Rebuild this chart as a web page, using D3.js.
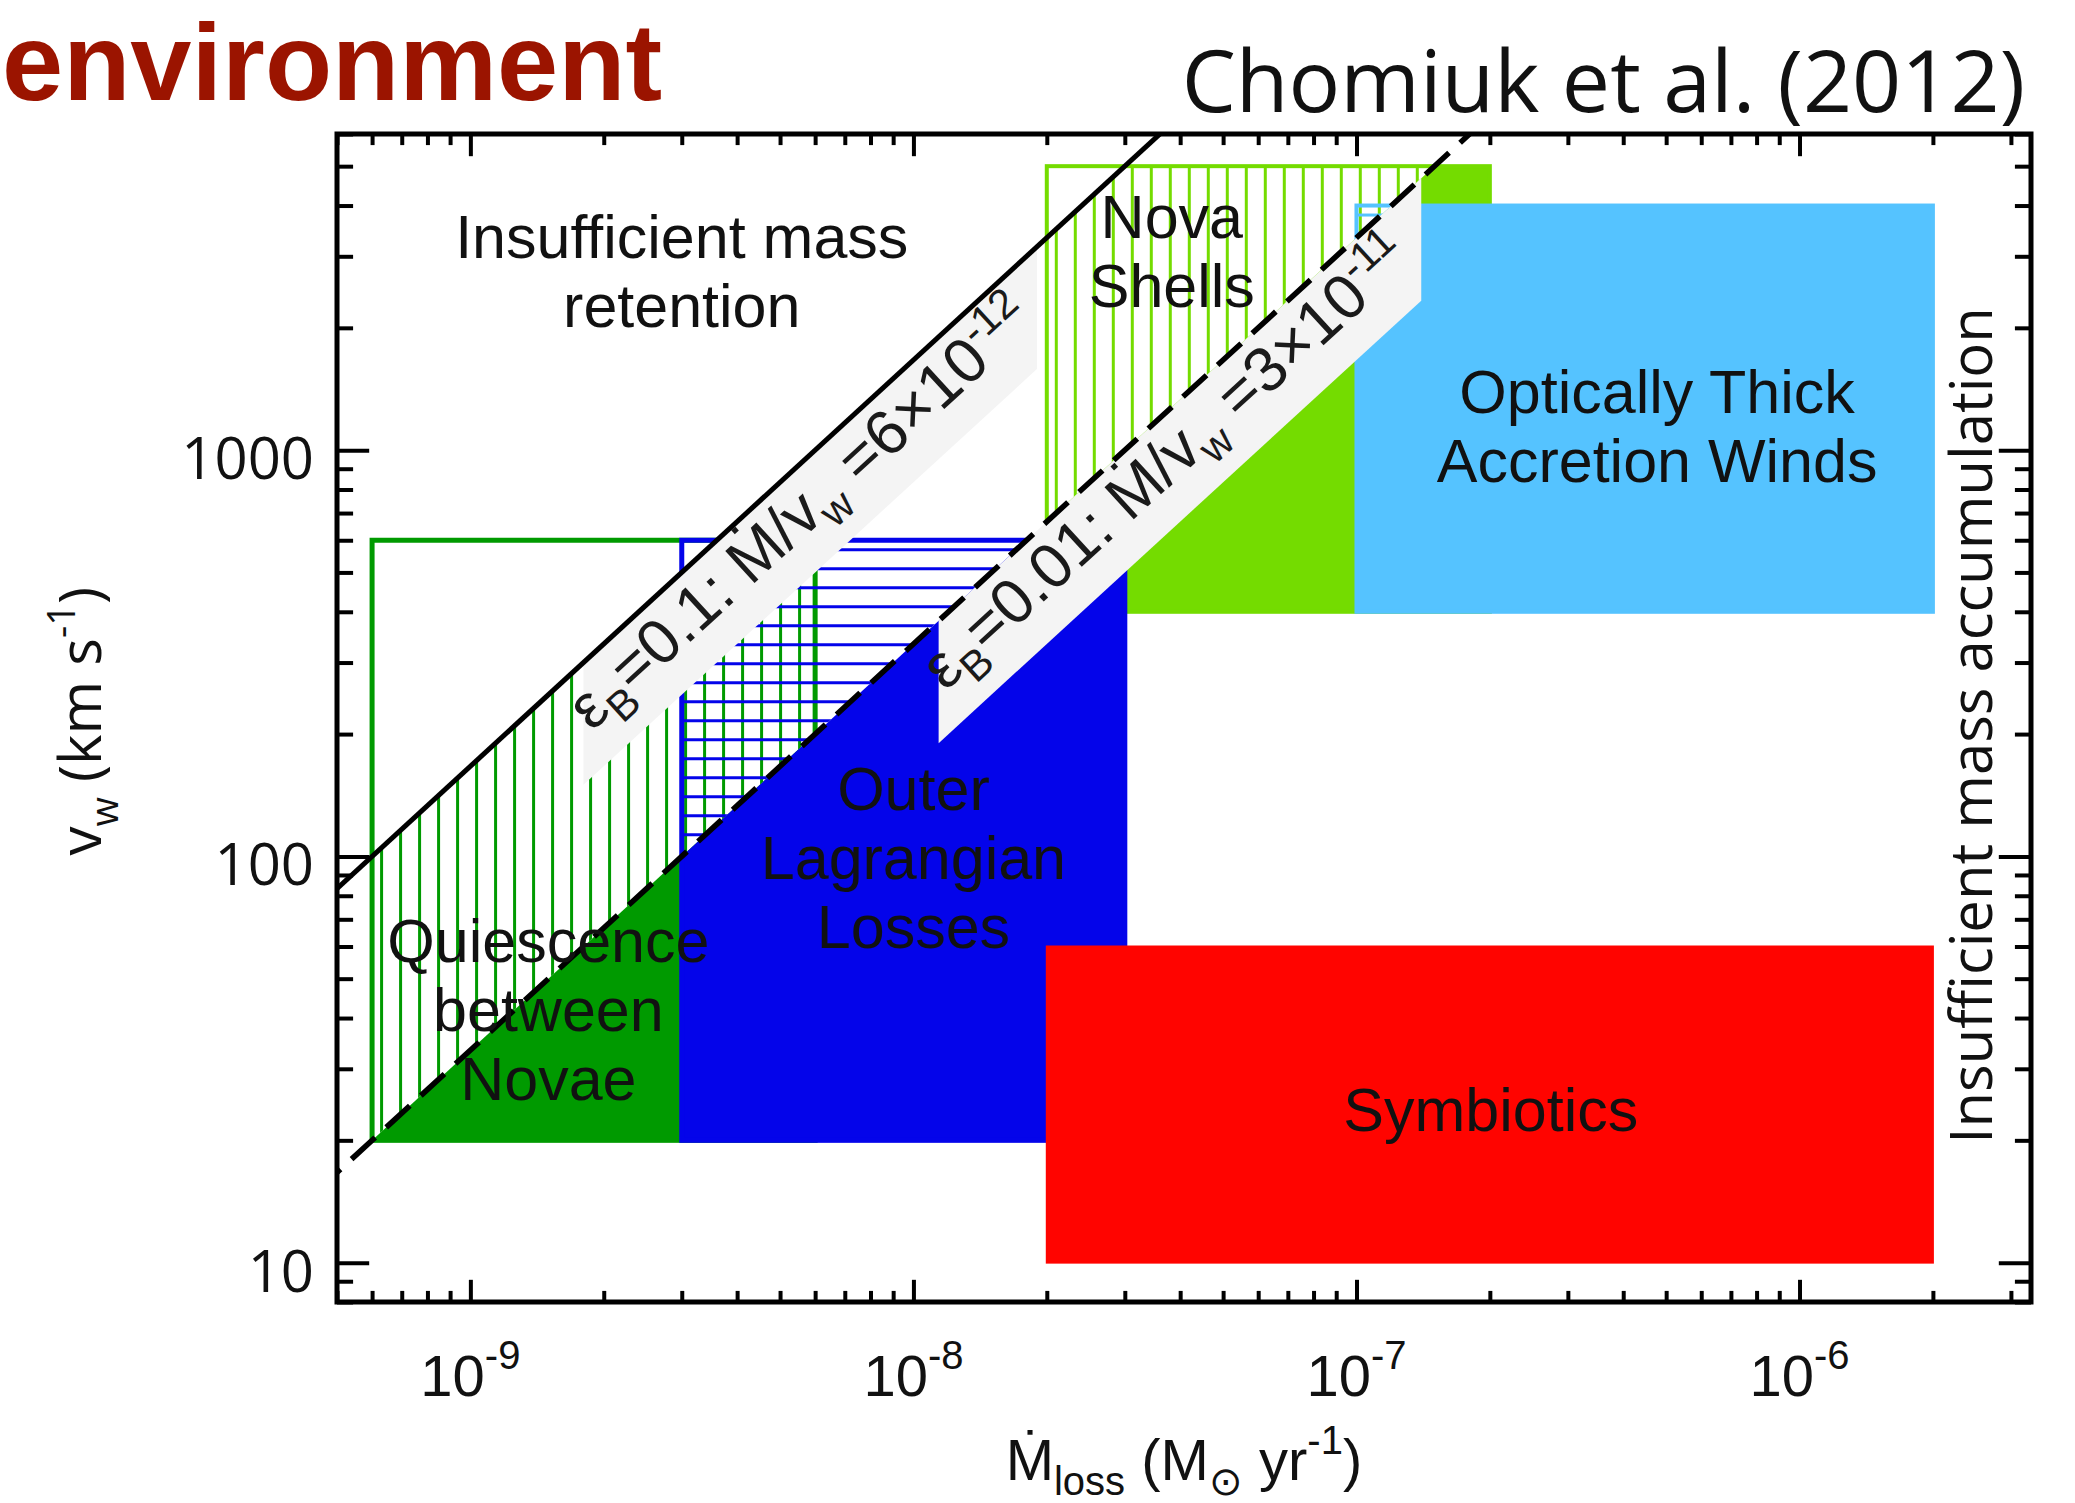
<!DOCTYPE html>
<html>
<head>
<meta charset="utf-8">
<script src="https://d3js.org/d3.v7.min.js"></script>
<style>
  body { margin: 0; background: #fff; }
  svg { display: block; }
  text { fill: #111; }
  .lab { font-family: 'Liberation Sans', Arial, sans-serif; font-size: 61px; }
  .round { font-family: 'Open Sans', sans-serif; }
  .ax line { stroke: #000; stroke-width: 4px; }
  .band-text { font-family: 'Liberation Sans', Arial, sans-serif; font-size: 63px; fill: #1a1a1a; }
</style>
</head>
<body>
<svg width="2075" height="1503"></svg>
<script>
// ---- data ----
const xDomain = [5e-10, 3.33e-6];        // Mdot_loss (Msun/yr)
const yDomain = [8, 6000];               // v_w (km/s)
const xMajor = [1e-9, 1e-8, 1e-7, 1e-6];
const yMajor = [10, 100, 1000];

const regionLines = [['Quiescence', 'between', 'Novae'], ['Nova', 'Shells'], ['Outer', 'Lagrangian', 'Losses'],
                     ['Optically Thick', 'Accretion Winds'], ['Symbiotics']];
const mdotLo = [6e-10, 2e-8, 3e-9, 1e-7, 2e-8];
const mdotHi = [6e-9, 2e-7, 3e-8, 2e-6, 2e-6];
const vLo = [20, 400, 20, 400, 10];
const vHi = [600, 5000, 600, 4000, 60];

const epsB = [0.1, 0.01];                 // solid, dashed
const mdotOverV = [6e-12, 3e-11];

// ---- style / layout ----
const regionStyle = [
  { color: '#009a00', hatch: 'v', sw: 5 },
  { color: '#74dc00', hatch: 'v', sw: 4 },
  { color: '#0404ea', hatch: 'h', sw: 5 },
  { color: '#55c3ff', hatch: 'h', sw: 4 },
  { color: '#ff0400', hatch: 'h', sw: 2 }
];
// label anchors in data units (centre x, first baseline)
const regionLabelAt = [[1.5e-9, 55], [3.83e-8, 3330], [1e-8, 130], [4.77e-7, 1234], [2.01e-7, 21.1]];
const bandSpan = [[1.8e-9, 1.9e-8], [1.14e-8, 1.4e-7]];
const bandTextStart = [1.88e-9, 1.18e-8];
const lineGap = 69;

const svg = d3.select('svg');
const x = d3.scaleLog().domain(xDomain).range([337, 2031]);
const y = d3.scaleLog().domain(yDomain).range([1302, 134]);
const [xl, xr] = x.range();
const [yb, yt] = y.range();

const defs = svg.append('defs');
defs.append('clipPath').attr('id', 'plot')
  .append('rect').attr('x', xl).attr('y', yt).attr('width', xr - xl).attr('height', yb - yt);

// half-planes in pixel space (lines of constant Mdot/v are straight on log-log)
const mA = xDomain[0] / 100, mB = xDomain[1] * 100;
const pt = (m, c) => [x(m), y(m / c)];
const [cSolid, cDash] = mdotOverV;
defs.append('clipPath').attr('id', 'belowDash')
  .append('polygon').attr('points', [pt(mA, cDash), pt(mB, cDash), [x(mB), 5000], [x(mA), 5000]].map(p => p.join(',')).join(' '));
defs.append('clipPath').attr('id', 'between')
  .append('polygon').attr('points', [pt(mA, cSolid), pt(mB, cSolid), pt(mB, cDash), pt(mA, cDash)].map(p => p.join(',')).join(' '));

const plot = svg.append('g').attr('clip-path', 'url(#plot)');

mdotLo.forEach((m0, i) => {
  const st = regionStyle[i];
  const rx = x(m0), ry = y(vHi[i]);
  const rw = x(mdotHi[i]) - rx, rh = y(vLo[i]) - ry;
  const pat = defs.append('pattern').attr('id', 'hatch' + i)
    .attr('patternUnits', 'userSpaceOnUse').attr('x', rx).attr('y', ry)
    .attr('width', 19).attr('height', 19);
  if (st.hatch === 'v') pat.append('line').attr('x1', 9.5).attr('x2', 9.5).attr('y1', -1).attr('y2', 20);
  else pat.append('line').attr('y1', 9.5).attr('y2', 9.5).attr('x1', -1).attr('x2', 20);
  pat.select('line').attr('stroke', st.color).attr('stroke-width', 3);

  const g = plot.append('g');
  g.append('g').attr('clip-path', 'url(#belowDash)')
    .append('rect').attr('x', rx).attr('y', ry).attr('width', rw).attr('height', rh).attr('fill', st.color);
  g.append('g').attr('clip-path', 'url(#between)')
    .append('rect').attr('x', rx).attr('y', ry).attr('width', rw).attr('height', rh).attr('fill', `url(#hatch${i})`);
  g.append('rect').attr('x', rx).attr('y', ry).attr('width', rw).attr('height', rh)
    .attr('fill', 'none').attr('stroke', st.color).attr('stroke-width', st.sw);
});

// grey label bands under each line
bandSpan.forEach(([m0, m1], i) => {
  const c = mdotOverV[i];
  plot.append('polygon')
    .attr('points', [pt(m0, c), pt(m1, c), pt(m1, 2 * c), pt(m0, 2 * c)].map(p => p.join(',')).join(' '))
    .attr('fill', '#f4f4f4');
});

// constant Mdot/v lines
mdotOverV.forEach((c, i) => {
  const a = pt(mA, c), b = pt(mB, c);
  plot.append('line').attr('x1', a[0]).attr('y1', a[1]).attr('x2', b[0]).attr('y2', b[1])
    .attr('stroke', '#000').attr('stroke-width', i === 0 ? 5 : 5.5)
    .attr('stroke-dasharray', i === 0 ? null : '32,15');
});

// rich text helper: parts = [[string, 'sub'|'sup'|''], ...]
function rich(sel, parts, small, subDy, supDy) {
  let shift = 0;
  parts.forEach(([s, k]) => {
    const target = k === 'sub' ? subDy : k === 'sup' ? -supDy : 0;
    const ts = sel.append('tspan').attr('dy', target - shift).text(s);
    if (k) ts.style('font-size', small + 'px');
    shift = target;
  });
  return sel;
}

// band labels
const angle = Math.atan2(y(1e-6 / cSolid) - y(1e-9 / cSolid), x(1e-6) - x(1e-9)) * 180 / Math.PI;
epsB.forEach((e, i) => {
  const c = mdotOverV[i];
  const expo = Math.floor(Math.log10(c));
  const mant = Math.round(c / Math.pow(10, expo));
  const [px, py] = pt(bandTextStart[i], 1.55 * c);
  const t = svg.append('text').attr('class', 'band-text')
    .attr('transform', `translate(${px},${py}) rotate(${angle})`);
  rich(t, [['ε', ''], ['B', 'sub'], [`=${e}: Ṁ/v`, ''], ['w', 'sub'], [` =${mant}×10`, ''], [`${expo}`, 'sup']], 42, 15, 24);
});

// region labels
regionLines.forEach((lines, i) => {
  const [m, v] = regionLabelAt[i];
  const t = svg.append('text').attr('class', 'lab').attr('text-anchor', 'middle');
  lines.forEach((s, j) => t.append('tspan').attr('x', x(m)).attr('y', y(v) + j * lineGap).text(s));
});
const ins = svg.append('text').attr('class', 'lab').attr('text-anchor', 'middle');
['Insufficient mass', 'retention'].forEach((s, j) =>
  ins.append('tspan').attr('x', x(3e-9)).attr('y', y(2972) + j * lineGap).text(s));

svg.append('text').attr('class', 'round').attr('text-anchor', 'middle')
  .attr('transform', `translate(${x(2.72e-6)},${y(210)}) rotate(-90)`)
  .style('font-size', '58px').text('Insufficient mass accumulation');

// axes: ticks on all four sides, pointing inward
const tl = 0.019;
const xt = (yb - yt) * tl, ytl = (xr - xl) * tl;
const isMajor = (arr, d) => arr.some(m => Math.abs(m - d) / m < 1e-6);
const xMinor = x.ticks().filter(d => !isMajor(xMajor, d));
const yMinor = y.ticks().filter(d => !isMajor(yMajor, d));
function axisG(axis, tr) {
  svg.append('g').attr('class', 'ax').attr('transform', tr).call(axis)
    .call(g => g.select('.domain').remove()).call(g => g.selectAll('text').remove());
}
axisG(d3.axisBottom(x).tickValues(xMajor).tickSize(-xt), `translate(0,${yb})`);
axisG(d3.axisBottom(x).tickValues(xMinor).tickSize(-xt / 2), `translate(0,${yb})`);
axisG(d3.axisTop(x).tickValues(xMajor).tickSize(-xt), `translate(0,${yt})`);
axisG(d3.axisTop(x).tickValues(xMinor).tickSize(-xt / 2), `translate(0,${yt})`);
axisG(d3.axisLeft(y).tickValues(yMajor).tickSize(-ytl), `translate(${xl},0)`);
axisG(d3.axisLeft(y).tickValues(yMinor).tickSize(-ytl / 2), `translate(${xl},0)`);
axisG(d3.axisRight(y).tickValues(yMajor).tickSize(-ytl), `translate(${xr},0)`);
axisG(d3.axisRight(y).tickValues(yMinor).tickSize(-ytl / 2), `translate(${xr},0)`);

svg.append('rect').attr('x', xl).attr('y', yt).attr('width', xr - xl).attr('height', yb - yt)
  .attr('fill', 'none').attr('stroke', '#000').attr('stroke-width', 5);

// tick labels
xMajor.forEach(d => {
  const t = svg.append('text').attr('class', 'lab').attr('text-anchor', 'middle')
    .attr('x', x(d)).attr('y', yb + 94).style('font-size', '58px');
  rich(t, [['10', ''], [`${Math.round(Math.log10(d))}`, 'sup']], 40, 0, 27);
});
yMajor.forEach(d => {
  svg.append('text').attr('class', 'round').attr('text-anchor', 'end')
    .attr('x', xl - 23).attr('y', y(d) + 29).style('font-size', '58px').text(d3.format('d')(d));
});

// axis titles
const xt2 = svg.append('text').attr('class', 'lab').attr('text-anchor', 'middle')
  .attr('x', (x(1e-8) + x(1e-7)) / 2 + 49).attr('y', 1480).style('font-size', '58px');
rich(xt2, [['Ṁ', ''], ['loss', 'sub'], [' (M', ''], ['⊙', 'sub'], [' yr', ''], ['-1', 'sup'], [')', '']], 40, 15, 26);

const yt2 = svg.append('text').attr('class', 'round').attr('text-anchor', 'middle')
  .attr('transform', `translate(101,${(y(100) + y(1000)) / 2 + 68}) rotate(-90)`).style('font-size', '58px');
rich(yt2, [['v', ''], ['w', 'sub'], [' (km s', ''], ['-1', 'sup'], [')', '']], 38, 17, 26);

// header texts
svg.append('text').attr('x', 2025).attr('y', 112).attr('text-anchor', 'end')
  .attr('class', 'round').style('font-size', '86px').text('Chomiuk et al. (2012)');
svg.append('text').attr('x', 2).attr('y', 100)
  .style('font-family', "'Liberation Sans', Arial, sans-serif").style('font-weight', 'bold')
  .style('font-size', '110px').style('fill', '#9b1400').text('environment');
</script>
</body>
</html>
